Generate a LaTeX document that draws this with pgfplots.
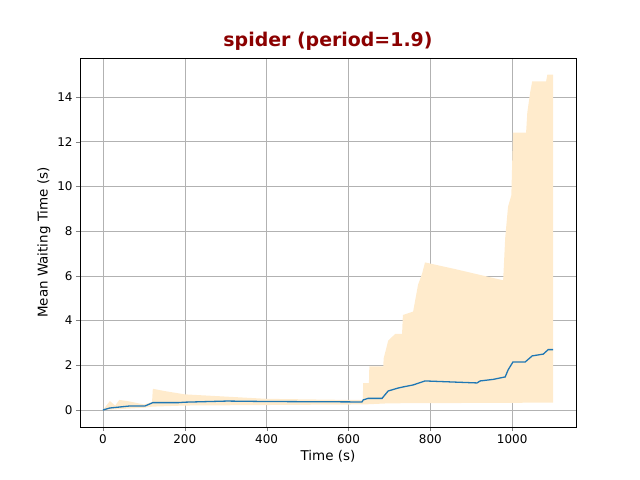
\documentclass[border=0pt]{standalone}
\usepackage{pgfplots}
\pgfplotsset{compat=1.18}
\usepackage{fontspec}
\setmainfont{DejaVu Sans}
\definecolor{band}{HTML}{FFEBCC}
\definecolor{line}{HTML}{1F77B4}
\definecolor{ttl}{HTML}{8B0000}
\begin{document}
\begin{tikzpicture}
\begin{axis}[name=ax, scale only axis, width=496bp, height=369bp,
 xmin=-56, xmax=1156, ymin=-0.76, ymax=15.74,
 xtick={0,200,...,1000}, ytick={0,2,...,14},
 grid=major, grid style={gray!60}, tick pos=left,
 tick label style={font=\fontsize{12}{14}\selectfont},
 /pgf/number format/assume math mode=true,
 /pgf/number format/set thousands separator={},
 xlabel={Time (s)}, ylabel={Mean Waiting Time (s)},
 label style={font=\fontsize{13.5}{16}\selectfont},
 title={\textbf{spider (period=1.9)}},
 title style={font=\fontsize{19}{22}\selectfont, text=ttl, yshift=-2bp},
 tick align=outside, major tick length=4bp]
\addplot[fill=band, draw=none] coordinates {
(0,0) (17,0.4) (30,0.2) (40,0.45) (60,0.4) (100,0.25) (120,0.35) (122,0.95) (150,0.85) (200,0.7) (300,0.6) (400,0.5) (600,0.45) (635,0.45) (636,1.2) (650,1.2) (651,1.95) (685,1.95) (686,2.3) (697,3.1) (714,3.4) (731,3.4) (733,4.25) (758,4.4) (763,4.9) (770,5.6) (780,6.1) (787,6.6) (861,6.3) (978,5.8) (983,7.7) (990,9.1) (998,9.6) (1002,12.4) (1034,12.4) (1037,13.3) (1044,14.2) (1049,14.7) (1083,14.7) (1086,15.0) (1100,15.0)
(1100,0.33) (700,0.3) (640,0.25) (200,0.2) (120,0.15) (100,0.1) (0,0)} \closedcycle;
\addplot[line, line width=1.3pt] coordinates {
(0,0) (17,0.09) (66,0.18) (103,0.18) (122,0.33) (185,0.33) (200,0.35) (303,0.4) (400,0.38) (633,0.36) (636,0.45) (648,0.52) (682,0.52) (697,0.85) (721,0.98) (733,1.03) (758,1.12) (787,1.3) (914,1.21) (922,1.3) (954,1.37) (983,1.48) (990,1.79) (1002,2.15) (1032,2.15) (1049,2.42) (1076,2.5) (1088,2.7) (1100,2.7)};
\end{axis}
\path[use as bounding box] (ax.south west) ++(-80bp,-53bp) rectangle ++(640bp,480bp);
\end{tikzpicture}
\end{document}
